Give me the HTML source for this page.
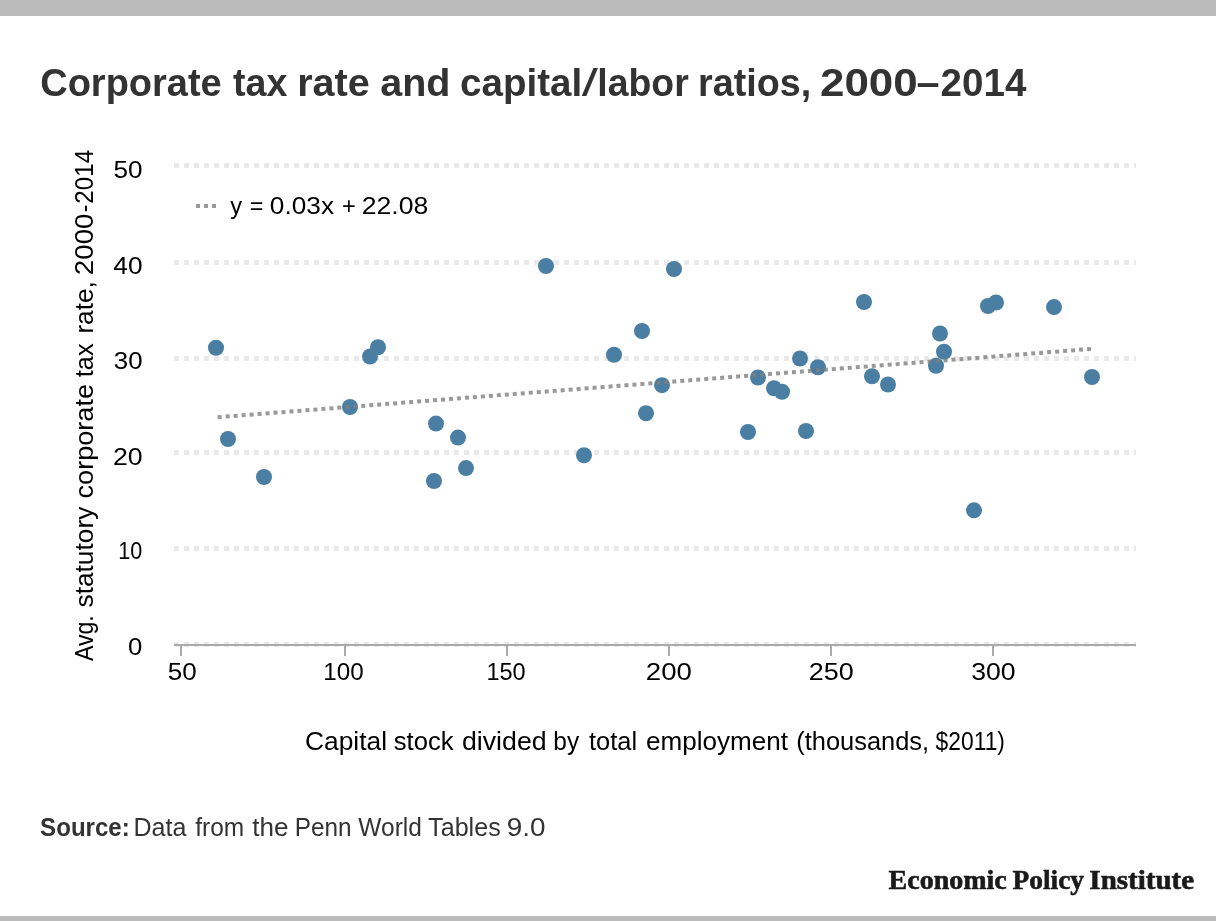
<!DOCTYPE html>
<html lang="en">
<head>
<meta charset="utf-8">
<title>Corporate tax rate and capital/labor ratios, 2000–2014</title>
<style>
html,body{margin:0;padding:0;background:#fff;}
body{width:1216px;height:921px;overflow:hidden;position:relative;}
svg{display:block;position:absolute;left:0;top:0;}
text{white-space:pre;}
.sans{font-family:'Liberation Sans',Arial,sans-serif;}
.serif{font-family:'Liberation Serif','Times New Roman',serif;}
</style>
</head>
<body>
<svg width="1216" height="921" viewBox="0 0 1216 921">
<rect x="0" y="0" width="1216" height="921" fill="#ffffff"/>
<rect x="0" y="0" width="1216" height="16" fill="#bbbbbb"/>
<rect x="0" y="916" width="1216" height="5" fill="#bbbbbb"/>
<g stroke="#e9e9e9" stroke-width="5" stroke-dasharray="5 5" fill="none">
<path d="M174 165.5H1136"/>
<path d="M174 262.5H1136"/>
<path d="M174 358.5H1136"/>
<path d="M174 452.5H1136"/>
<path d="M174 548.5H1136"/>
<path d="M174 644.5H1136"/>
</g>
<g stroke="#aaaaaa" stroke-width="2" fill="none">
<path d="M174 645H1136"/>
<path d="M181 646V656"/>
<path d="M345 646V656"/>
<path d="M507 646V656"/>
<path d="M669 646V656"/>
<path d="M831 646V656"/>
<path d="M993 646V656"/>
</g>
<g fill="#4a7fa3">
<circle cx="216" cy="347.75" r="8"/>
<circle cx="228" cy="439" r="8"/>
<circle cx="264" cy="477" r="8"/>
<circle cx="350" cy="407" r="8"/>
<circle cx="370" cy="356.5" r="8"/>
<circle cx="378" cy="347.25" r="8"/>
<circle cx="434" cy="481" r="8"/>
<circle cx="436" cy="423.6" r="8"/>
<circle cx="458" cy="437.6" r="8"/>
<circle cx="466" cy="468.1" r="8"/>
<circle cx="546" cy="266" r="8"/>
<circle cx="584" cy="455.25" r="8"/>
<circle cx="614" cy="354.75" r="8"/>
<circle cx="642" cy="331" r="8"/>
<circle cx="646" cy="413.25" r="8"/>
<circle cx="662" cy="385.2" r="8"/>
<circle cx="674" cy="269" r="8"/>
<circle cx="748" cy="432" r="8"/>
<circle cx="758" cy="377.5" r="8"/>
<circle cx="774" cy="388.25" r="8"/>
<circle cx="782" cy="391.75" r="8"/>
<circle cx="800" cy="358.5" r="8"/>
<circle cx="806" cy="431" r="8"/>
<circle cx="818" cy="367.25" r="8"/>
<circle cx="864" cy="302" r="8"/>
<circle cx="872" cy="376.25" r="8"/>
<circle cx="888" cy="384.5" r="8"/>
<circle cx="936" cy="365.75" r="8"/>
<circle cx="940" cy="333.5" r="8"/>
<circle cx="944" cy="351.75" r="8"/>
<circle cx="974" cy="510.3" r="8"/>
<circle cx="988" cy="306" r="8"/>
<circle cx="996" cy="302.5" r="8"/>
<circle cx="1054" cy="307.1" r="8"/>
<circle cx="1092" cy="377" r="8"/>
</g>
<path d="M217.7 417.2L1091.2 348.9" stroke="#808080" stroke-opacity="0.8" stroke-width="4" stroke-dasharray="4 4" fill="none"/>
<path d="M196 206H216" stroke="#999999" stroke-width="4" stroke-dasharray="4 4" fill="none"/>
<text class="sans" font-size="39" font-weight="bold" fill="#333333" y="96.4"><tspan x="40.21" textLength="181.53" lengthAdjust="spacingAndGlyphs">Corporate</tspan> <tspan x="233.00" textLength="54.36" lengthAdjust="spacingAndGlyphs">tax</tspan> <tspan x="297.23" textLength="72.56" lengthAdjust="spacingAndGlyphs">rate</tspan> <tspan x="380.28" textLength="70.24" lengthAdjust="spacingAndGlyphs">and</tspan> <tspan x="460.10" textLength="122.08" lengthAdjust="spacingAndGlyphs">capital</tspan><tspan font-weight="normal" x="581.80" textLength="16.20" lengthAdjust="spacingAndGlyphs">/</tspan><tspan x="597.26" textLength="91.47" lengthAdjust="spacingAndGlyphs">labor</tspan> <tspan x="698.04" textLength="113.08" lengthAdjust="spacingAndGlyphs">ratios,</tspan> <tspan x="819.98" textLength="97.70" lengthAdjust="spacingAndGlyphs">2000</tspan><tspan x="916.55" textLength="23.08" lengthAdjust="spacingAndGlyphs">–</tspan><tspan x="940.60" textLength="85.76" lengthAdjust="spacingAndGlyphs">2014</tspan></text>
<text class="sans" font-size="24" fill="#000000" y="213.9"><tspan x="230.30" textLength="11.80" lengthAdjust="spacingAndGlyphs">y</tspan> <tspan x="249.70" textLength="13.67" lengthAdjust="spacingAndGlyphs">=</tspan> <tspan x="269.88" textLength="64.12" lengthAdjust="spacingAndGlyphs">0.03x</tspan> <tspan x="341.89" textLength="13.78" lengthAdjust="spacingAndGlyphs">+</tspan> <tspan x="361.65" textLength="66.63" lengthAdjust="spacingAndGlyphs">22.08</tspan></text>
<text class="sans" font-size="24" fill="#000000" y="177.9"><tspan x="113.58" textLength="29.07" lengthAdjust="spacingAndGlyphs">50</tspan></text>
<text class="sans" font-size="24" fill="#000000" y="274.2"><tspan x="113.39" textLength="29.27" lengthAdjust="spacingAndGlyphs">40</tspan></text>
<text class="sans" font-size="24" fill="#000000" y="368.6"><tspan x="113.89" textLength="28.75" lengthAdjust="spacingAndGlyphs">30</tspan></text>
<text class="sans" font-size="24" fill="#000000" y="464.9"><tspan x="112.95" textLength="29.72" lengthAdjust="spacingAndGlyphs">20</tspan></text>
<text class="sans" font-size="24" fill="#000000" y="559.2"><tspan x="118.25" textLength="23.98" lengthAdjust="spacingAndGlyphs">10</tspan></text>
<text class="sans" font-size="24" fill="#000000" y="655.4"><tspan x="127.99" textLength="14.35" lengthAdjust="spacingAndGlyphs">0</tspan></text>
<text class="sans" font-size="24" fill="#000000" y="679.9"><tspan x="167.79" textLength="28.96" lengthAdjust="spacingAndGlyphs">50</tspan></text>
<text class="sans" font-size="24" fill="#000000" y="679.9"><tspan x="323.39" textLength="40.42" lengthAdjust="spacingAndGlyphs">100</tspan></text>
<text class="sans" font-size="24" fill="#000000" y="679.9"><tspan x="486.43" textLength="39.26" lengthAdjust="spacingAndGlyphs">150</tspan></text>
<text class="sans" font-size="24" fill="#000000" y="679.9"><tspan x="645.81" textLength="46.08" lengthAdjust="spacingAndGlyphs">200</tspan></text>
<text class="sans" font-size="24" fill="#000000" y="679.9"><tspan x="808.79" textLength="44.99" lengthAdjust="spacingAndGlyphs">250</tspan></text>
<text class="sans" font-size="24" fill="#000000" y="679.9"><tspan x="971.27" textLength="44.39" lengthAdjust="spacingAndGlyphs">300</tspan></text>
<text class="sans" font-size="25.3" fill="#000000" y="750.2"><tspan x="304.96" textLength="82.07" lengthAdjust="spacingAndGlyphs">Capital</tspan> <tspan x="393.80" textLength="59.80" lengthAdjust="spacingAndGlyphs">stock</tspan> <tspan x="461.97" textLength="84.63" lengthAdjust="spacingAndGlyphs">divided</tspan> <tspan x="553.37" textLength="25.83" lengthAdjust="spacingAndGlyphs">by</tspan> <tspan x="589.00" textLength="48.08" lengthAdjust="spacingAndGlyphs">total</tspan> <tspan x="646.09" textLength="141.93" lengthAdjust="spacingAndGlyphs">employment</tspan> <tspan x="796.31" textLength="132.79" lengthAdjust="spacingAndGlyphs">(thousands,</tspan> <tspan x="935.60" textLength="69.33" lengthAdjust="spacingAndGlyphs">$2011)</tspan></text>
<text class="sans" font-size="25.3" fill="#333333" y="836.2"><tspan font-weight="bold" x="40.12" textLength="89.68" lengthAdjust="spacingAndGlyphs">Source:</tspan> <tspan x="133.54" textLength="52.90" lengthAdjust="spacingAndGlyphs">Data</tspan> <tspan x="195.30" textLength="48.97" lengthAdjust="spacingAndGlyphs">from</tspan> <tspan x="252.20" textLength="36.26" lengthAdjust="spacingAndGlyphs">the</tspan> <tspan x="294.70" textLength="56.87" lengthAdjust="spacingAndGlyphs">Penn</tspan> <tspan x="358.30" textLength="63.58" lengthAdjust="spacingAndGlyphs">World</tspan> <tspan x="428.11" textLength="72.58" lengthAdjust="spacingAndGlyphs">Tables</tspan> <tspan x="506.69" textLength="38.80" lengthAdjust="spacingAndGlyphs">9.0</tspan></text>
<text class="serif" font-size="27.5" font-weight="bold" fill="#1a1a1a" stroke="#1a1a1a" stroke-width="0.6" y="889.4"><tspan x="888.56" textLength="118.25" lengthAdjust="spacingAndGlyphs">Economic</tspan> <tspan x="1012.57" textLength="71.43" lengthAdjust="spacingAndGlyphs">Policy</tspan> <tspan x="1089.39" textLength="104.64" lengthAdjust="spacingAndGlyphs">Institute</tspan></text>
<text class="sans" font-size="25.3" fill="#000000" transform="rotate(-90)" y="92.5"><tspan x="-661.10" textLength="45.89" lengthAdjust="spacingAndGlyphs">Avg.</tspan> <tspan x="-607.51" textLength="100.81" lengthAdjust="spacingAndGlyphs">statutory</tspan> <tspan x="-498.45" textLength="114.44" lengthAdjust="spacingAndGlyphs">corporate</tspan> <tspan x="-377.20" textLength="33.80" lengthAdjust="spacingAndGlyphs">tax</tspan> <tspan x="-333.64" textLength="52.39" lengthAdjust="spacingAndGlyphs">rate,</tspan> <tspan x="-275.20" textLength="61.69" lengthAdjust="spacingAndGlyphs">2000</tspan><tspan x="-212.32" textLength="7.65" lengthAdjust="spacingAndGlyphs">-</tspan><tspan x="-203.64" textLength="53.94" lengthAdjust="spacingAndGlyphs">2014</tspan></text>
</svg>
</body>
</html>
